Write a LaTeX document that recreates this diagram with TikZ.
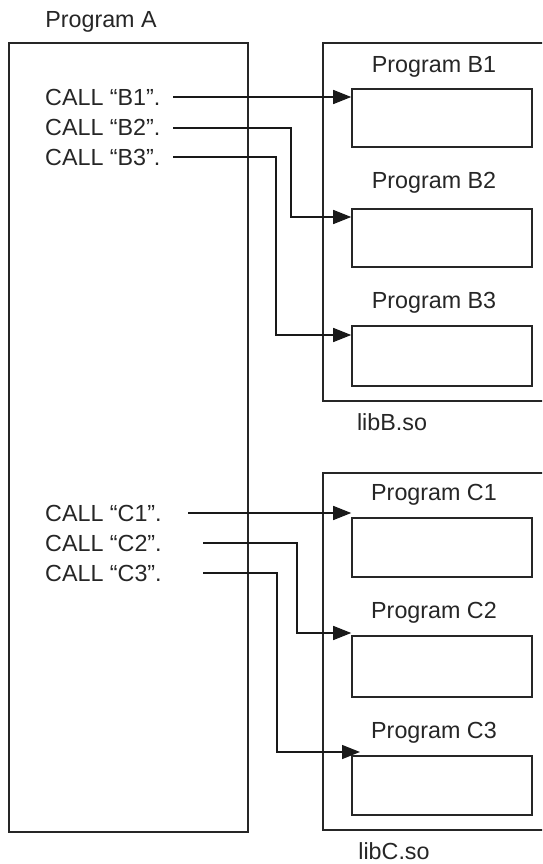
\documentclass[tikz,border=0pt]{standalone}
\usepackage{fontspec}
\setmainfont{Liberation Sans}
\usetikzlibrary{arrows.meta}
\begin{document}
\begin{tikzpicture}[x=1pt,y=-1pt,
  box/.style={draw=black!85,line width=1.6pt,rectangle,inner sep=0pt},
  inbox/.style={box,minimum width=180pt},
  lbl/.style={font=\fontsize{23.3}{26}\selectfont,text=black!85,inner sep=0pt},
  conn/.style={line width=1.5pt,draw=black!90,-{Triangle[length=18pt,width=14pt]}}]
\useasboundingbox (0,0) rectangle (542,864);
\clip (0,0) rectangle (542,864);
\fill[white] (0,0) rectangle (542,864);
% Program A
\node[lbl] (tA) at (101,22) {Program A};
\node[box,minimum width=239pt,minimum height=789pt] (A) at (128.5,437.5) {};
% libraries
\node[box,minimum width=227pt,minimum height=358pt] (libB) at (436.5,222) {};
\node[box,minimum width=227pt,minimum height=357pt] (libC) at (436.5,651.5) {};
\node[lbl] (tlibB) at (392,422) {libB.so};
\node[lbl] (tlibC) at (394,851) {libC.so};
% inner boxes
\node[inbox,minimum height=58pt] (b1) at (442,118) {};
\node[inbox,minimum height=58pt] (b2) at (442,238) {};
\node[inbox,minimum height=60pt] (b3) at (442,356) {};
\node[inbox,minimum height=59pt] (c1) at (442,547.5) {};
\node[inbox,minimum height=61pt] (c2) at (442,666.5) {};
\node[inbox,minimum height=59pt] (c3) at (442,785.5) {};
\node[lbl] (tb1) at (434,67) {Program B1};
\node[lbl] (tb2) at (434,183) {Program B2};
\node[lbl] (tb3) at (434,303) {Program B3};
\node[lbl] (tc1) at (434,495) {Program C1};
\node[lbl] (tc2) at (434,613) {Program C2};
\node[lbl] (tc3) at (434,733) {Program C3};
% call texts
\node[lbl,anchor=west] (cb1) at (45,97) {CALL “B1”.};
\node[lbl,anchor=west] (cb2) at (45,127) {CALL “B2”.};
\node[lbl,anchor=west] (cb3) at (45,157) {CALL “B3”.};
\node[lbl,anchor=west] (cc1) at (45,513) {CALL “C1”.};
\node[lbl,anchor=west] (cc2) at (45,543) {CALL “C2”.};
\node[lbl,anchor=west] (cc3) at (45,573) {CALL “C3”.};
% connector ends
\coordinate (sb1) at (173,97);
\coordinate (sb2) at (173,128);
\coordinate (sb3) at (173,157);
\coordinate (sc1) at (188,513);
\coordinate (sc2) at (203,543);
\coordinate (sc3) at (203,573);
\coordinate (eb1) at (b1.west |- 0,97);
\coordinate (eb2) at (b2.west |- 0,217);
\coordinate (eb3) at (b3.west |- 0,335);
\coordinate (ec1) at (c1.west |- 0,513);
\coordinate (ec2) at (c2.west |- 0,633);
\coordinate (ec3) at (360,752);
% connectors
\draw[conn] (sb1) -- (eb1);
\draw[conn] (sb2) -- (291,128) |- (eb2);
\draw[conn] (sb3) -- (276,157) |- (eb3);
\draw[conn] (sc1) -- (ec1);
\draw[conn] (sc2) -- (297,543) |- (ec2);
\draw[conn] (sc3) -- (277,573) |- (ec3);
\end{tikzpicture}
\end{document}
